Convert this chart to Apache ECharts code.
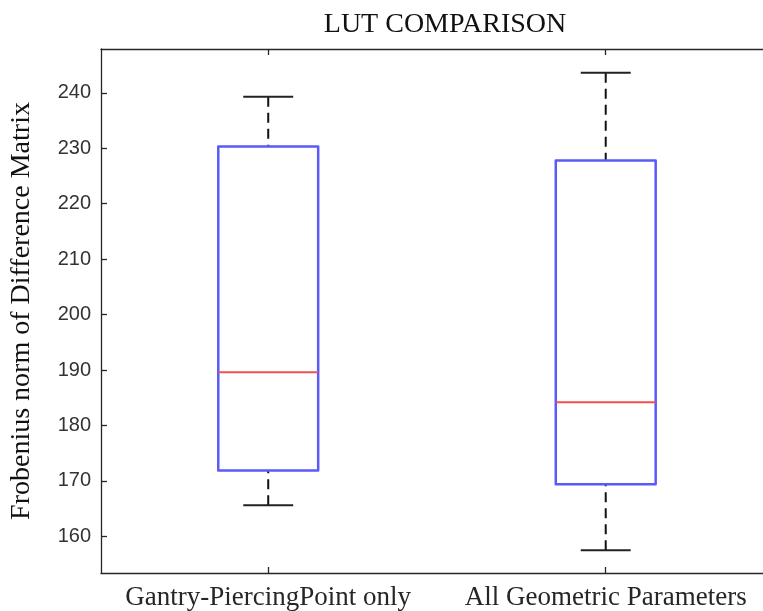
<!DOCTYPE html>
<html>
<head>
<meta charset="utf-8">
<title>LUT COMPARISON</title>
<script src="https://cdn.jsdelivr.net/npm/echarts@6/dist/echarts.min.js"></script>
<style>
  html, body { margin: 0; padding: 0; background: #ffffff; }
  #chart { width: 763px; height: 611px; }
</style>
</head>
<body>
<div id="chart"></div>
<script>
// Box plot statistics per configuration
const categories = ['Gantry-PiercingPoint only', 'All Geometric Parameters'];
const whiskerLow = [165.6, 157.5];
const q1 = [171.9, 169.4];
const median = [189.6, 184.2];
const q3 = [230.3, 227.8];
const whiskerHigh = [239.3, 243.6];
const yTicks = [160, 170, 180, 190, 200, 210, 220, 230, 240];
const xTicks = [0, 1];

const rows = categories.map((c, i) => [i, whiskerLow[i], q1[i], median[i], q3[i], whiskerHigh[i]]);

const axisColor = '#262626';
const serif = "'Liberation Serif', 'Times New Roman', serif";
const sans = "'Liberation Sans', Arial, sans-serif";

// The x axis runs past the right edge of the figure (only part of the
// last slot is visible), so positions are mapped on a numeric axis.
const xMin = -0.4955;
const xMax = 1.466;

function renderBox(params, api) {
  const idx = api.value(0);
  const unit = api.size([1, 0])[0];
  const half = unit * 0.148;
  const capHalf = half / 2;
  const pLow = api.coord([idx, api.value(1)]);
  const pQ1 = api.coord([idx, api.value(2)]);
  const pMed = api.coord([idx, api.value(3)]);
  const pQ3 = api.coord([idx, api.value(4)]);
  const pHigh = api.coord([idx, api.value(5)]);
  const cx = pQ1[0];
  const dashed = { stroke: '#111111', lineWidth: 2, lineDash: [10, 6] };
  const solid = { stroke: '#222222', lineWidth: 2 };
  return {
    type: 'group',
    children: [
      { type: 'line', shape: { x1: cx, y1: pHigh[1], x2: cx, y2: pQ3[1] }, style: dashed },
      { type: 'line', shape: { x1: cx, y1: pLow[1], x2: cx, y2: pQ1[1] }, style: dashed },
      { type: 'line', shape: { x1: cx - capHalf, y1: pHigh[1], x2: cx + capHalf, y2: pHigh[1] }, style: solid },
      { type: 'line', shape: { x1: cx - capHalf, y1: pLow[1], x2: cx + capHalf, y2: pLow[1] }, style: solid },
      { type: 'rect', shape: { x: cx - half, y: pQ3[1], width: half * 2, height: pQ1[1] - pQ3[1] },
        style: { fill: 'none', stroke: '#5a5af8', lineWidth: 2.5, lineJoin: 'round' } },
      { type: 'line', shape: { x1: cx - half, y1: pMed[1], x2: cx + half, y2: pMed[1] },
        style: { stroke: '#f25050', lineWidth: 2 } }
    ]
  };
}

const xAxisBase = {
  type: 'value',
  min: xMin,
  max: xMax,
  axisLine: { show: true, onZero: false, lineStyle: { color: axisColor, width: 1.3 } },
  axisTick: { show: true, inside: true, length: 6, customValues: xTicks, lineStyle: { color: axisColor, width: 1.3 } },
  splitLine: { show: false }
};

const chart = echarts.init(document.getElementById('chart'), null, { renderer: 'canvas' });
chart.setOption({
  backgroundColor: '#ffffff',
  animation: false,
  title: {
    text: 'LUT COMPARISON',
    left: 445,
    top: 11,
    padding: 0,
    textAlign: 'center',
    textStyle: { fontFamily: serif, fontSize: 28, fontWeight: 'normal', color: '#111111' }
  },
  grid: { left: 101, top: 49, right: 0, height: 527, containLabel: false },
  xAxis: [
    Object.assign({}, xAxisBase, {
      position: 'bottom',
      axisLabel: {
        fontFamily: serif, fontSize: 27, color: '#262626', margin: 11,
        customValues: xTicks,
        formatter: (v) => categories[Math.round(v)] || ''
      }
    }),
    Object.assign({}, xAxisBase, {
      position: 'top',
      axisLabel: { show: false }
    })
  ],
  yAxis: {
    type: 'value',
    position: 'left',
    min: 153.4,
    max: 247.9,
    name: 'Frobenius norm of Difference Matrix',
    nameLocation: 'middle',
    nameGap: 65,
    nameTextStyle: { fontFamily: serif, fontSize: 28, color: '#111111' },
    axisLine: { show: true, onZero: false, lineStyle: { color: axisColor, width: 1.3 } },
    axisTick: { show: true, inside: true, length: 6, customValues: yTicks, lineStyle: { color: axisColor, width: 1.3 } },
    axisLabel: { fontFamily: sans, fontSize: 20, color: '#333333', margin: 10, customValues: yTicks },
    splitLine: { show: false }
  },
  series: [
    {
      type: 'custom',
      name: 'LUT',
      xAxisIndex: 0,
      yAxisIndex: 0,
      renderItem: renderBox,
      encode: { x: 0, y: [1, 2, 3, 4, 5] },
      data: rows,
      clip: false
    }
  ]
});
</script>
</body>
</html>
